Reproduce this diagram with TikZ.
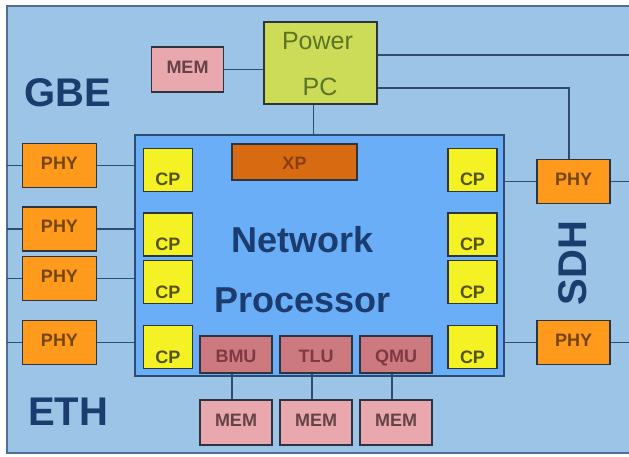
\documentclass[tikz,border=0pt]{standalone}
\usepackage{fontspec}
\setmainfont{Liberation Sans}
\usetikzlibrary{calc}
\definecolor{bgblue}{HTML}{9CC4E6}
\definecolor{npblue}{HTML}{6AAEF8}
\definecolor{framec}{HTML}{4E6E96}
\definecolor{linec}{HTML}{2E4C70}
\definecolor{boxline}{HTML}{2C3440}
\definecolor{phyor}{HTML}{FF9A1C}
\definecolor{phytext}{HTML}{74460A}
\definecolor{cpyel}{HTML}{F4F224}
\definecolor{cptext}{HTML}{55550A}
\definecolor{xpor}{HTML}{D86A12}
\definecolor{xptext}{HTML}{86400C}
\definecolor{mempink}{HTML}{E8A8AE}
\definecolor{memtext}{HTML}{654246}
\definecolor{unitred}{HTML}{CC7A80}
\definecolor{unittext}{HTML}{7E3A40}
\definecolor{ppcgreen}{HTML}{CCDC58}
\definecolor{ppctext}{HTML}{5C7424}
\definecolor{bigtext}{HTML}{1A3C6E}
\begin{document}
\begin{tikzpicture}[x=1pt,y=-1pt,
  box/.style={draw=boxline,line width=1.2pt,inner sep=0pt,
    font=\bfseries\fontsize{18}{18}\selectfont},
  phybox/.style={box,fill=phyor,text=phytext,minimum width=74,minimum height=44,
    text height=12.9pt,text depth=5pt},
  cpbox/.style={box,fill=cpyel,text=cptext,minimum width=49,minimum height=43,
    text height=32pt,text depth=0pt},
  membox/.style={box,fill=mempink,text=memtext,minimum width=72,minimum height=45,
    text height=12.9pt,text depth=5pt},
  unitbox/.style={box,fill=unitred,text=unittext,minimum width=72,minimum height=37,
    text height=16pt,text depth=0pt},
  xpbox/.style={box,fill=xpor,text=xptext,minimum width=125,minimum height=36,
    text height=16pt,text depth=0pt},
  ppcbox/.style={draw=boxline,line width=1.2pt,fill=ppcgreen,text=ppctext,
    minimum width=113,minimum height=82,inner sep=0pt},
  npbox/.style={draw=linec,line width=1.5pt,fill=npblue,minimum width=369,
    minimum height=241,inner sep=0pt},
  big/.style={text=bigtext,font=\bfseries\fontsize{40}{40}\selectfont,inner sep=0pt},
  mid/.style={text=bigtext,font=\bfseries\fontsize{36}{36}\selectfont,inner sep=0pt},
  conn/.style={draw=linec,line width=1.3pt}
]
\useasboundingbox (0,0) rectangle (629,457);
\fill[bgblue] (7,6) rectangle (629,453);
\draw[framec,line width=1.5pt] (629,6) -- (7,6) -- (7,453) -- (629,453);

% Network processor
\node[npbox] (np) at (319.5,255.5) {};
\node[mid] (nett) at (302.5,240) {Network};
\node[mid] (proct) at (302.5,300) {Processor};

% Power PC and its memory
\node[ppcbox] (ppc) at (320.5,63) {};
\node[text=ppctext,font=\fontsize{25}{25}\selectfont,inner sep=0pt] (ppcp) at (317.5,41) {Power};
\node[text=ppctext,font=\fontsize{25}{25}\selectfont,inner sep=0pt] (ppcc) at (320,87) {PC};
\node[membox] (memt) at (187.5,69.5) {MEM};

% XP
\node[xpbox] (xp) at (294.5,162) {XP};

% CPs
\foreach \n/\y in {1/170,2/234.5,3/282,4/347}{
  \node[cpbox] (cpl\n) at (168,\y) {CP};
  \node[cpbox] (cpr\n) at (472.5,\y) {CP};
}

% PHYs
\node[phybox] (phyl1) at (59.5,165.5) {PHY};
\node[phybox] (phyl2) at (59.5,229) {PHY};
\node[phybox] (phyl3) at (59.5,278.5) {PHY};
\node[phybox] (phyl4) at (59.5,342.5) {PHY};
\node[phybox,minimum width=73] (phyr1) at (573.5,181.5) {PHY};
\node[phybox,minimum width=73] (phyr2) at (573.5,342.5) {PHY};

% Units and memories
\node[unitbox] (bmu) at (236,354.5) {BMU};
\node[unitbox] (tlu) at (316,354.5) {TLU};
\node[unitbox] (qmu) at (396,354.5) {QMU};
\node[membox] (memb) at (236,422.5) {MEM};
\node[membox] (memtl) at (316,422.5) {MEM};
\node[membox] (memq) at (396,422.5) {MEM};

% Big labels
\node[big] (gbe) at (68,93) {GBE};
\node[big] (eth) at (68,412) {ETH};
\node[big,rotate=90] (sdh) at (573,263) {SDH};

% Free-end coordinates
\coordinate (e1) at (629,55);
\coordinate (bend) at (569,88);
\foreach \n in {1,2,3,4}{\coordinate (w\n) at (7,0);}
\coordinate (er1) at (629,0);
\coordinate (er2) at (629,0);

% Connectors
\draw[conn] (memt.east) -- (memt.east -| ppc.west);
\draw[conn] ($(ppc.south)+(-7,0)$) -- ($(ppc.south |- np.north)+(-7,0)$);
\draw[conn] (ppc.east |- e1) -- (e1);
\draw[conn] (ppc.east |- bend) -- (bend) -- (bend |- phyr1.north);
\foreach \n in {1,2,3,4}{
  \draw[conn] (w\n |- phyl\n.west) -- (phyl\n.west);
  \draw[conn] (phyl\n.east) -- (phyl\n.east -| np.west);
}
\draw[conn] (np.east |- phyr1.west) -- (phyr1.west);
\draw[conn] (phyr1.east) -- (er1 |- phyr1.east);
\draw[conn] (np.east |- phyr2.west) -- (phyr2.west);
\draw[conn] (phyr2.east) -- (er2 |- phyr2.east);
\draw[conn] ($(bmu.south)+(-4,0)$) -- ($(memb.north)+(-4,0)$);
\draw[conn] ($(tlu.south)+(-4,0)$) -- ($(memtl.north)+(-4,0)$);
\draw[conn] ($(qmu.south)+(-4,0)$) -- ($(memq.north)+(-4,0)$);
\end{tikzpicture}
\end{document}
